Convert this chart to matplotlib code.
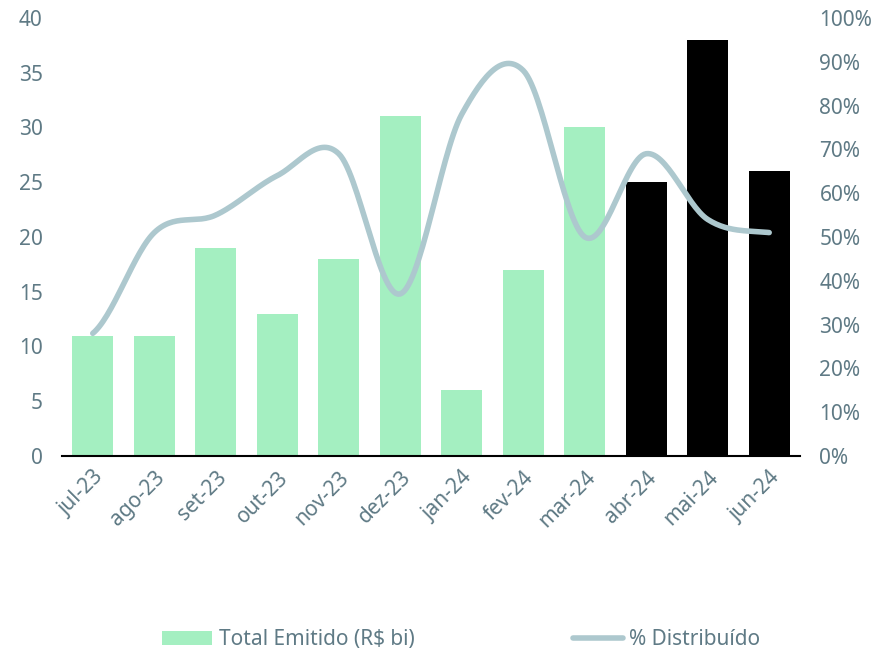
import matplotlib.pyplot as plt
import numpy as np
from matplotlib.patches import Patch
from matplotlib.lines import Line2D

months = ['jul-23', 'ago-23', 'set-23', 'out-23', 'nov-23', 'dez-23',
          'jan-24', 'fev-24', 'mar-24', 'abr-24', 'mai-24', 'jun-24']
total_emitido = [11, 11, 19, 13, 18, 31, 6, 17, 30, 25, 38, 26]
pct_distribuido = [28, 51, 55, 64, 69, 37, 78, 88, 50, 69, 54, 51]
n_green = 9  # first months in green, the rest in black

green = '#a4efc1'
line_color = '#adc8ce'
text_color = '#5f7a85'

plt.rcParams['font.family'] = ['Noto Sans', 'DejaVu Sans']


def smooth(y, steps=30):
    # Catmull-Rom curve through the points, like a spreadsheet "smoothed line"
    pts = np.asarray(y, dtype=float)
    xs, ys = [], []
    n = len(pts)
    for i in range(n - 1):
        p0 = pts[max(i - 1, 0)]
        p1 = pts[i]
        p2 = pts[i + 1]
        p3 = pts[min(i + 2, n - 1)]
        t = np.linspace(0, 1, steps, endpoint=(i == n - 2))
        yy = 0.5 * ((2 * p1) + (-p0 + p2) * t + (2 * p0 - 5 * p1 + 4 * p2 - p3) * t ** 2
                    + (-p0 + 3 * p1 - 3 * p2 + p3) * t ** 3)
        xs.append(i + t)
        ys.append(yy)
    return np.concatenate(xs), np.concatenate(ys)


fig = plt.figure(figsize=(8.81, 6.51), dpi=100)
ax = fig.add_axes([0.0704, 0.2995, 0.8376, 0.673])
ax2 = ax.twinx()

x = np.arange(len(months))
colors = [green if i < n_green else 'black' for i in range(len(months))]
ax.bar(x, total_emitido, width=0.67, color=colors, zorder=2)

sx, sy = smooth(pct_distribuido)
ax2.plot(sx, sy, color=line_color, lw=4, solid_capstyle='round', zorder=3)

ax.set_xlim(-0.5, len(months) - 0.5)
ax.set_ylim(0, 40)
ax.set_yticks(range(0, 41, 5))
ax2.set_ylim(0, 100)
ax2.set_yticks(range(0, 101, 10))
ax2.set_yticklabels([f'{v}%' for v in range(0, 101, 10)])

ax.set_xticks(x)
ax.set_xticklabels(months, rotation=45, ha='right', rotation_mode='anchor')

for a in (ax, ax2):
    for s in a.spines.values():
        s.set_visible(False)
    a.tick_params(length=0, labelsize=15, labelcolor=text_color)
ax.spines['bottom'].set_visible(True)
ax.spines['bottom'].set_linewidth(1.5)
ax.spines['bottom'].set_color('black')
ax.spines['bottom'].set_zorder(4)
ax.tick_params(axis='y', pad=14)
ax2.tick_params(axis='y', pad=14)
ax.tick_params(axis='x', pad=8)

handles = [Patch(facecolor=green, edgecolor='none', label='Total Emitido (R$ bi)'),
           Line2D([], [], color=line_color, lw=4, solid_capstyle='round', label='% Distribuído')]
leg = fig.legend(handles=handles, loc='center left', bbox_to_anchor=(0.163, 0.017),
                 ncol=2, frameon=False, fontsize=15, handlelength=2.4,
                 handletextpad=0.3, columnspacing=7.6)
for t in leg.get_texts():
    t.set_color(text_color)

plt.savefig('out.png', dpi=100)
